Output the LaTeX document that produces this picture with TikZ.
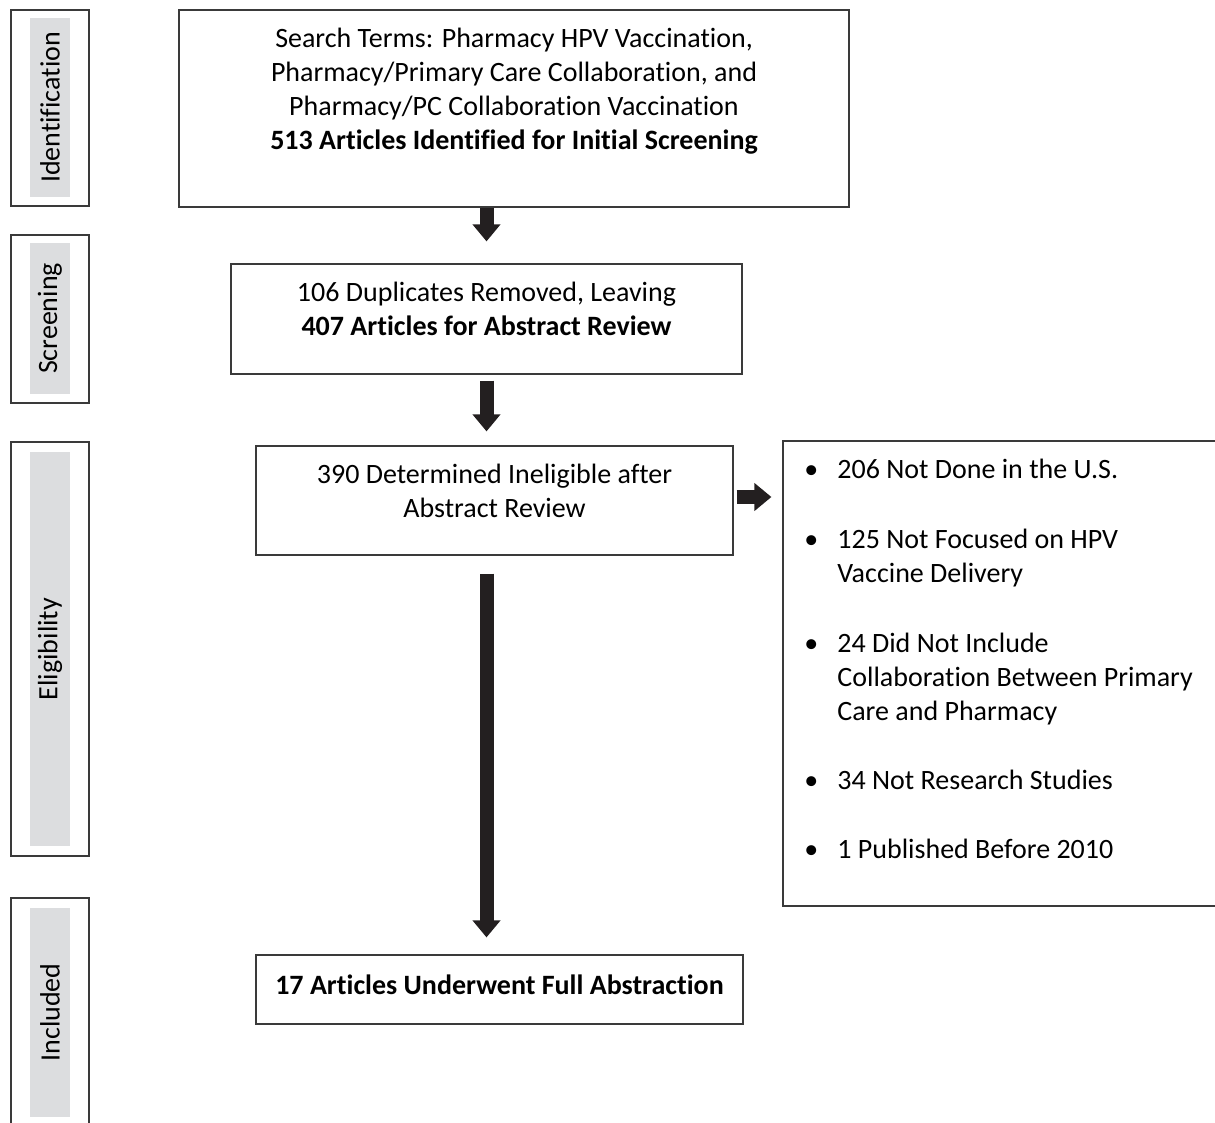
\documentclass[tikz,border=0pt]{standalone}
\usepackage{fontspec}
\setmainfont{Carlito}[Ligatures=NoCommon]
\usepackage{xcolor}
\usetikzlibrary{arrows.meta,positioning,calc}

\definecolor{frameline}{HTML}{3A3A3A}
\definecolor{bandgray}{HTML}{DCDDDF}
\definecolor{arrowink}{HTML}{231F20}

\begin{document}
\begin{tikzpicture}[
  x=0.5pt, y=-0.5pt,
  font=\fontsize{14}{17}\selectfont,
  frame/.style={draw=frameline, line width=0.6pt, inner sep=0pt},
  band/.style={fill=bandgray, inner sep=0pt},
  stagelabel/.style={rotate=90, inner sep=0pt},
  txt/.style={align=center, inner sep=0pt},
  blk/.style={arrowink, line width=7pt, -{Triangle[length=8.5pt, width=13.5pt]}},
]
\useasboundingbox (0,0) rectangle (1215,1123);

% stage bands on the left
\node[frame, minimum width=39pt, minimum height=98pt] (idbox) at (50,108) {};
\node[band, minimum width=20pt, minimum height=89.5pt] (idband) at (50,107.5) {};
\node[stagelabel] (idlabel) at (idband) {Identification};

\node[frame, minimum width=39pt, minimum height=84pt] (scrbox) at (50,319) {};
\node[band, minimum width=20pt, minimum height=75.5pt] (scrband) at (50,318.5) {};
\node[stagelabel] (scrlabel) at (scrband) {Screening};

\node[frame, minimum width=39pt, minimum height=207pt] (elbox) at (50,649) {};
\node[band, minimum width=20pt, minimum height=197pt] (elband) at (50,649) {};
\node[stagelabel] (ellabel) at (elband) {Eligibility};

\node[frame, minimum width=39pt, minimum height=118.5pt] (inbox) at (50,1016.5) {};
\node[band, minimum width=20pt, minimum height=104.5pt] (inband) at (50,1012.5) {};
\node[stagelabel] (inlabel) at (inband) {Included};

% flow boxes
\node[frame, minimum width=335pt, minimum height=98.5pt] (search) at (514,108.5) {};
\node[txt] (searchtxt) at (514,91) {Search Terms: Pharmacy HPV Vaccination,\\
  Pharmacy/Primary Care Collaboration, and\\
  Pharmacy/PC Collaboration Vaccination\\
  \textbf{513 Articles Identified for Initial Screening}};

\node[frame, minimum width=255.5pt, minimum height=55pt] (dupes) at (486.5,319) {};
\node[txt] (dupestxt) at (486.5,309) {106 Duplicates Removed, Leaving\\
  \textbf{407 Articles for Abstract Review}};

\node[frame, minimum width=238.5pt, minimum height=54.5pt] (inelig) at (494.5,500.5) {};
\node[txt] (ineligtxt) at (494.5,491) {390 Determined Ineligible after\\
  Abstract Review};

\node[frame, minimum width=228.5pt, minimum height=232.5pt] (reasons) at (1011.5,673.5) {};
\node[anchor=base west, inner sep=0pt] (reasonstxt) at (804,478) {%
  \begin{tabular}[t]{@{}p{16.5pt}@{}l@{}}
  \textbullet & 206 Not Done in the U.S.\\[18pt]
  \textbullet & 125 Not Focused on HPV\\
              & Vaccine Delivery\\[18pt]
  \textbullet & 24 Did Not Include\\
              & Collaboration Between Primary\\
              & Care and Pharmacy\\[17.5pt]
  \textbullet & 34 Not Research Studies\\[17.5pt]
  \textbullet & 1 Published Before 2010
  \end{tabular}};

\node[frame, minimum width=243.5pt, minimum height=34.5pt] (included) at (499.5,989.5) {};
\node[txt] (includedtxt) at (499.5,985) {\textbf{17 Articles Underwent Full Abstraction}};

% block arrows
\draw[blk] (search.south -| dupes) -- ([yshift=11pt]dupes.north);
\draw[blk] ([yshift=-3pt]dupes.south) -- ([yshift=7pt]dupes.south |- inelig.north);
\draw[blk] ([yshift=-9pt]dupes.south |- inelig.south) -- ([yshift=8.5pt]dupes.south |- included.north);
\draw[blk] ([xshift=1.5pt, yshift=1.75pt]inelig.east) -- ([xshift=-5.5pt, yshift=1.75pt]inelig.east -| reasons.west);
\end{tikzpicture}
\end{document}
